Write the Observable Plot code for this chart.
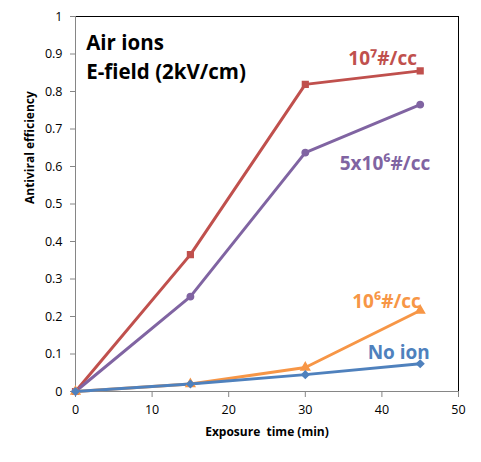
<!DOCTYPE html>
<html>
<head>
<meta charset="utf-8">
<script src="https://cdn.jsdelivr.net/npm/d3@7"></script>
<script src="https://cdn.jsdelivr.net/npm/@observablehq/plot@0.6"></script>
<style>
  body { margin: 0; background: #fff; }
  svg { display: block; }
</style>
</head>
<body>
<div id="chart"></div>
<script>
const times = [0, 15, 30, 45];
const ions1e7 = [0, 0.365, 0.819, 0.855];
const ions5e6 = [0, 0.253, 0.637, 0.765];
const ions1e6 = [0, 0.02, 0.064, 0.216];
const noIon = [0, 0.02, 0.045, 0.074];
const seriesNames = ["10⁷#/cc", "5x10⁶#/cc", "10⁶#/cc", "No ion"];
const seriesColors = ["#C0504D", "#8064A2", "#F79646", "#4F81BD"];
const seriesSymbols = ["square", "circle", "triangle", "diamond2"];
const xTicks = [0, 10, 20, 30, 40, 50];
const yTicks = [0, 0.1, 0.2, 0.3, 0.4, 0.5, 0.6, 0.7, 0.8, 0.9, 1];
// annotation anchors in data units
const labelX = [40.1, 40.4, 40.6, 42.2];
const labelY = [0.888, 0.608, 0.24, 0.104];
const titleLines = ["Air ions", "E-field (2kV/cm)"];
const titleY = [0.928, 0.85];

const allValues = [ions1e7, ions5e6, ions1e6, noIon];
const rows = [];
allValues.forEach((vals, s) => vals.forEach((v, i) => rows.push({series: seriesNames[s], t: times[i], v})));
const labels = seriesNames.map((n, i) => ({n, x: labelX[i], y: labelY[i], c: seriesColors[i]}));
const titles = titleLines.map((t, i) => ({t, y: titleY[i]}));

const font = "'Open Sans', 'DejaVu Sans', sans-serif";

const plot = Plot.plot({
  width: 481,
  height: 462,
  marginLeft: 75,
  marginRight: 23,
  marginTop: 16,
  marginBottom: 71,
  style: {fontFamily: font, fontSize: "12px", color: "#000", background: "#fff"},
  x: {domain: [0, 50], ticks: xTicks, label: null},
  y: {domain: [0, 1], ticks: yTicks, label: null},
  color: {domain: seriesNames, range: seriesColors},
  symbol: {domain: seriesNames, range: seriesSymbols},
  marks: [
    Plot.ruleY([1], {stroke: "#000", strokeWidth: 1}),
    Plot.ruleX([50], {stroke: "#000", strokeWidth: 1}),
    Plot.ruleY([0], {stroke: "#868686", strokeWidth: 1}),
    Plot.ruleX([0], {stroke: "#868686", strokeWidth: 1}),
    Plot.axisX({ticks: xTicks, tickSize: 6, tickPadding: 8, stroke: "#868686", fill: "#000", fontSize: 12.5, tickFormat: d => d}),
    Plot.axisY({ticks: yTicks, tickSize: 5, tickPadding: 8, stroke: "#868686", fill: "#000", fontSize: 12.5, tickFormat: d => String(d), label: null}),
    Plot.line(rows, {x: "t", y: "v", z: "series", stroke: "series", strokeWidth: 3}),
    Plot.dot(rows, {x: "t", y: "v", symbol: "series", fill: "series", stroke: "series", r: 3.2}),
    Plot.text(labels, {x: "x", y: "y", text: "n", fill: "c", fontSize: 19, fontWeight: "bold", fontFamily: font}),
    Plot.text(titles, {x: 1.4, y: "y", text: "t", textAnchor: "start", fill: "#000", fontSize: 20.5, fontWeight: "bold", fontFamily: font}),
    Plot.text(["Exposure  time (min)"], {frameAnchor: "bottom", dy: 44, fontSize: 12, fontWeight: "bold", fill: "#000"}),
    Plot.text(["Antiviral efficiency"], {frameAnchor: "left", dx: -45, rotate: -90, fontSize: 12, fontWeight: "bold", fill: "#000"})
  ]
});
document.getElementById("chart").appendChild(plot);
</script>
</body>
</html>
